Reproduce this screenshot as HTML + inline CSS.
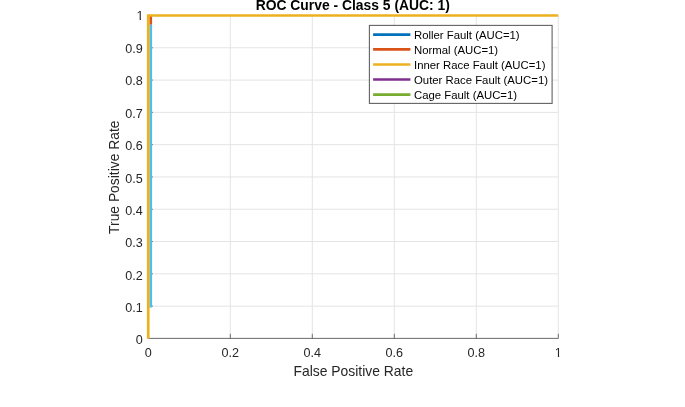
<!DOCTYPE html>
<html><head><meta charset="utf-8"><title>ROC Curve - Class 5</title>
<style>
html,body{margin:0;padding:0;background:#fff;}
body{width:685px;height:407px;overflow:hidden;}
svg{display:block;font-family:'Liberation Sans', Arial, Helvetica, sans-serif;}
text{font-family:'Liberation Sans', Arial, Helvetica, sans-serif;}
</style></head><body>
<svg width="685" height="407" viewBox="0 0 685 407">
<rect width="685" height="407" fill="#ffffff"/>
<defs><clipPath id="c1x"><rect x="545" y="340" width="30" height="15.9"/><rect x="557.85" y="355" width="1.3" height="4"/></clipPath><clipPath id="c1y"><rect x="125" y="5" width="25" height="13.9"/><rect x="139.7" y="18" width="1.2" height="4"/></clipPath></defs>
<g stroke="#e4e4e4" stroke-width="1" shape-rendering="auto">
<line x1="148.30" y1="15.50" x2="148.30" y2="338.40"/>
<line x1="230.30" y1="15.50" x2="230.30" y2="338.40"/>
<line x1="312.30" y1="15.50" x2="312.30" y2="338.40"/>
<line x1="394.30" y1="15.50" x2="394.30" y2="338.40"/>
<line x1="476.30" y1="15.50" x2="476.30" y2="338.40"/>
<line x1="558.30" y1="15.50" x2="558.30" y2="338.40"/>
<line x1="148.30" y1="338.40" x2="558.30" y2="338.40"/>
<line x1="148.30" y1="306.11" x2="558.30" y2="306.11"/>
<line x1="148.30" y1="273.82" x2="558.30" y2="273.82"/>
<line x1="148.30" y1="241.53" x2="558.30" y2="241.53"/>
<line x1="148.30" y1="209.24" x2="558.30" y2="209.24"/>
<line x1="148.30" y1="176.95" x2="558.30" y2="176.95"/>
<line x1="148.30" y1="144.66" x2="558.30" y2="144.66"/>
<line x1="148.30" y1="112.37" x2="558.30" y2="112.37"/>
<line x1="148.30" y1="80.08" x2="558.30" y2="80.08"/>
<line x1="148.30" y1="47.79" x2="558.30" y2="47.79"/>
<line x1="148.30" y1="15.50" x2="558.30" y2="15.50"/>
</g>
<g stroke="#262626" stroke-width="1" stroke-opacity="0.62">
<line x1="148.30" y1="338.40" x2="558.30" y2="338.40"/>
<line x1="230.30" y1="338.40" x2="230.30" y2="333.80"/>
<line x1="312.30" y1="338.40" x2="312.30" y2="333.80"/>
<line x1="394.30" y1="338.40" x2="394.30" y2="333.80"/>
<line x1="476.30" y1="338.40" x2="476.30" y2="333.80"/>
<line x1="558.30" y1="338.40" x2="558.30" y2="333.80"/>
<line x1="151.60" y1="306.11" x2="152.90" y2="306.11"/>
<line x1="151.60" y1="273.82" x2="152.90" y2="273.82"/>
<line x1="151.60" y1="241.53" x2="152.90" y2="241.53"/>
<line x1="151.60" y1="209.24" x2="152.90" y2="209.24"/>
<line x1="151.60" y1="176.95" x2="152.90" y2="176.95"/>
<line x1="151.60" y1="144.66" x2="152.90" y2="144.66"/>
<line x1="151.60" y1="112.37" x2="152.90" y2="112.37"/>
<line x1="151.60" y1="80.08" x2="152.90" y2="80.08"/>
<line x1="151.60" y1="47.79" x2="152.90" y2="47.79"/>
<line x1="151.60" y1="15.50" x2="152.90" y2="15.50"/>
</g>
<g fill="none" stroke-width="2.7" stroke-linejoin="miter" stroke-linecap="butt">
<path d="M150.75 24.75 L150.75 15.50" stroke="#D95319"/>
<path d="M150.75 307.40 L150.75 24.75" stroke="#4DBEEE"/>
<path d="M148.25 338.80 L148.25 15.50 L558.30 15.50" stroke="#EDB120"/>
</g>
<g font-size="12.6" fill="#262626">
<text x="148.30" y="356.6" text-anchor="middle">0</text>
<text x="230.30" y="356.6" text-anchor="middle">0.2</text>
<text x="312.30" y="356.6" text-anchor="middle">0.4</text>
<text x="394.30" y="356.6" text-anchor="middle">0.6</text>
<text x="476.30" y="356.6" text-anchor="middle">0.8</text>
<text x="558.30" y="356.6" text-anchor="middle" clip-path="url(#c1x)">1</text>
<text x="142.8" y="344.35" text-anchor="end">0</text>
<text x="142.8" y="311.98" text-anchor="end">0.1</text>
<text x="142.8" y="279.61" text-anchor="end">0.2</text>
<text x="142.8" y="247.24" text-anchor="end">0.3</text>
<text x="142.8" y="214.87" text-anchor="end">0.4</text>
<text x="142.8" y="182.50" text-anchor="end">0.5</text>
<text x="142.8" y="150.13" text-anchor="end">0.6</text>
<text x="142.8" y="117.76" text-anchor="end">0.7</text>
<text x="142.8" y="85.39" text-anchor="end">0.8</text>
<text x="142.8" y="53.02" text-anchor="end">0.9</text>
<text x="143.6" y="20.10" text-anchor="end" clip-path="url(#c1y)">1</text>
</g>
<text x="353.30" y="375.7" font-size="13.9" fill="#262626" text-anchor="middle">False Positive Rate</text>
<text transform="translate(119.0 177.25) rotate(-90)" font-size="13.85" fill="#262626" text-anchor="middle">True Positive Rate</text>
<text x="352.80" y="10.0" font-size="13.88" font-weight="bold" fill="#000" text-anchor="middle">ROC Curve - Class 5 (AUC: 1)</text>
<rect x="369.4" y="25.4" width="182.70000000000005" height="78.0" fill="#fff" stroke="#262626" stroke-opacity="0.72" stroke-width="1.1"/>
<line x1="373.1" y1="34.55" x2="410.4" y2="34.55" stroke="#0072BD" stroke-width="2.7"/>
<text x="414.0" y="38.65" font-size="11.35" fill="#000">Roller Fault (AUC=1)</text>
<line x1="373.1" y1="49.4" x2="410.4" y2="49.4" stroke="#D95319" stroke-width="2.7"/>
<text x="414.0" y="53.50" font-size="11.35" fill="#000">Normal (AUC=1)</text>
<line x1="373.1" y1="64.5" x2="410.4" y2="64.5" stroke="#EDB120" stroke-width="2.7"/>
<text x="414.0" y="68.60" font-size="11.35" fill="#000">Inner Race Fault (AUC=1)</text>
<line x1="373.1" y1="79.5" x2="410.4" y2="79.5" stroke="#7E2F8E" stroke-width="2.7"/>
<text x="414.0" y="83.60" font-size="11.35" fill="#000">Outer Race Fault (AUC=1)</text>
<line x1="373.1" y1="94.55" x2="410.4" y2="94.55" stroke="#77AC30" stroke-width="2.7"/>
<text x="414.0" y="98.65" font-size="11.35" fill="#000">Cage Fault (AUC=1)</text>
</svg></body></html>
